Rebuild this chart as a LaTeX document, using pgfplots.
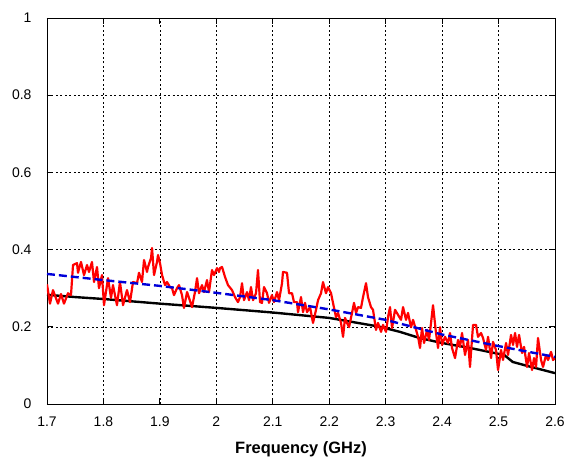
\documentclass[border=0pt]{standalone}
\usepackage{pgfplots}
\pgfplotsset{compat=1.18}
\usepackage{fontspec}
\setmainfont{Liberation Sans}

\pgfplotstableread{
f s
1.7000 0.310
1.7053 0.260
1.7106 0.295
1.7195 0.260
1.7248 0.285
1.7301 0.260
1.7372 0.287
1.7425 0.282
1.7461 0.360
1.7532 0.365
1.7549 0.340
1.7602 0.368
1.7656 0.334
1.7709 0.360
1.7744 0.342
1.7797 0.368
1.7833 0.316
1.7886 0.355
1.7921 0.300
1.7974 0.334
1.8010 0.256
1.8081 0.326
1.8134 0.275
1.8169 0.308
1.8240 0.256
1.8293 0.316
1.8347 0.256
1.8417 0.295
1.8471 0.264
1.8524 0.316
1.8595 0.313
1.8630 0.340
1.8683 0.316
1.8719 0.373
1.8772 0.342
1.8790 0.355
1.8843 0.378
1.8861 0.404
1.8896 0.334
1.8949 0.368
1.8967 0.386
1.9002 0.365
1.9038 0.334
1.9091 0.308
1.9126 0.316
1.9179 0.303
1.9215 0.300
1.9250 0.282
1.9303 0.300
1.9339 0.308
1.9392 0.282
1.9427 0.249
1.9481 0.290
1.9516 0.275
1.9569 0.251
1.9622 0.290
1.9658 0.326
1.9693 0.287
1.9746 0.308
1.9782 0.290
1.9835 0.321
1.9870 0.290
1.9923 0.347
1.9959 0.334
2.0012 0.352
2.0047 0.342
2.0065 0.352
2.0101 0.355
2.0154 0.329
2.0207 0.308
2.0278 0.295
2.0331 0.277
2.0384 0.264
2.0420 0.277
2.0455 0.313
2.0490 0.269
2.0544 0.290
2.0579 0.269
2.0614 0.303
2.0650 0.269
2.0703 0.287
2.0738 0.347
2.0774 0.264
2.0809 0.262
2.0845 0.303
2.0898 0.287
2.0933 0.262
2.0986 0.282
2.1022 0.264
2.1075 0.290
2.1111 0.269
2.1164 0.313
2.1181 0.342
2.1252 0.340
2.1288 0.287
2.1341 0.287
2.1376 0.264
2.1429 0.264
2.1447 0.238
2.1500 0.277
2.1536 0.238
2.1571 0.262
2.1607 0.238
2.1660 0.251
2.1713 0.210
2.1766 0.244
2.1802 0.269
2.1855 0.287
2.1890 0.316
2.1943 0.287
2.1979 0.303
2.2032 0.287
2.2067 0.262
2.2120 0.225
2.2156 0.236
2.2209 0.210
2.2245 0.174
2.2280 0.223
2.2315 0.210
2.2351 0.199
2.2404 0.236
2.2439 0.262
2.2475 0.236
2.2510 0.251
2.2563 0.249
2.2599 0.277
2.2652 0.313
2.2687 0.277
2.2740 0.251
2.2776 0.244
2.2829 0.192
2.2864 0.210
2.2918 0.187
2.2953 0.205
2.3006 0.187
2.3042 0.225
2.3077 0.251
2.3113 0.197
2.3166 0.244
2.3219 0.231
2.3272 0.218
2.3308 0.251
2.3361 0.218
2.3396 0.236
2.3449 0.199
2.3485 0.218
2.3538 0.192
2.3574 0.174
2.3609 0.145
2.3644 0.197
2.3680 0.158
2.3733 0.192
2.3768 0.166
2.3804 0.210
2.3839 0.256
2.3892 0.184
2.3928 0.145
2.3963 0.199
2.3999 0.153
2.4052 0.174
2.4105 0.158
2.4140 0.184
2.4176 0.145
2.4229 0.119
2.4282 0.166
2.4317 0.148
2.4353 0.184
2.4406 0.127
2.4459 0.166
2.4494 0.096
2.4548 0.205
2.4601 0.205
2.4636 0.174
2.4690 0.184
2.4725 0.171
2.4778 0.140
2.4814 0.174
2.4867 0.119
2.4902 0.161
2.4955 0.140
2.4991 0.088
2.5044 0.140
2.5079 0.114
2.5133 0.158
2.5168 0.127
2.5221 0.179
2.5257 0.153
2.5292 0.184
2.5327 0.148
2.5363 0.179
2.5416 0.132
2.5452 0.148
2.5505 0.096
2.5540 0.132
2.5593 0.088
2.5629 0.119
2.5664 0.096
2.5699 0.171
2.5753 0.114
2.5788 0.096
2.5841 0.127
2.5877 0.114
2.5930 0.135
2.5965 0.114
2.6000 0.119
}\measured

\pgfplotstableread{
f s
1.700 0.283
1.750 0.277
1.800 0.272
1.900 0.260
2.000 0.249
2.100 0.237
2.200 0.223
2.290 0.200
2.325 0.187
2.360 0.171
2.400 0.158
2.450 0.145
2.510 0.127
2.525 0.109
2.550 0.099
2.600 0.080
}\simulated

\pgfplotstableread{
f s
1.7 0.337
1.8 0.321
1.9 0.306
2.0 0.288
2.1 0.269
2.2 0.245
2.3 0.218
2.4 0.180
2.5 0.150
2.6 0.122
}\fitted

\definecolor{fitblue}{rgb}{0,0,0.85}

\begin{document}
\begin{tikzpicture}
\useasboundingbox (-47bp,-57bp) rectangle (520bp,404bp);
\begin{axis}[
  at={(0,0)}, anchor=south west,
  scale only axis,
  width=508bp, height=386bp,
  xmin=1.7, xmax=2.6, ymin=0, ymax=1,
  xtick={1.7,1.8,...,2.6},
  ytick={0,0.2,...,1},
  xticklabels={1.7,1.8,1.9,2,2.1,2.2,2.3,2.4,2.5,2.6},
  yticklabels={0,0.2,0.4,0.6,0.8,1},
  /pgf/number format/assume math mode=true,
  tick label style={font=\fontsize{14}{16}\selectfont},
  yticklabel style={xshift=-12bp},
  xticklabel style={yshift=-9bp},
  xlabel={\textbf{Frequency (GHz)}},
  xlabel style={font=\fontsize{16.5}{18}\selectfont, yshift=-8bp},
  axis line style={line width=0.9pt},
  tick align=inside,
  major tick length=6bp,
  tick style={black, line width=0.8pt},
  xtick pos=both, ytick pos=both,
  grid=major,
  major grid style={black, line width=0.6pt, dash pattern=on 2pt off 2.5pt},
  axis on top=false,
]
\addplot[black, line width=2.4pt, line join=round] table[x=f,y=s]{\simulated};
\addplot[red, line width=2.2pt, line join=round] table[x=f,y=s]{\measured};
\addplot[fitblue, line width=2.4pt, dash pattern=on 8pt off 4pt] table[x=f,y=s]{\fitted};
\end{axis}
\end{tikzpicture}
\end{document}
